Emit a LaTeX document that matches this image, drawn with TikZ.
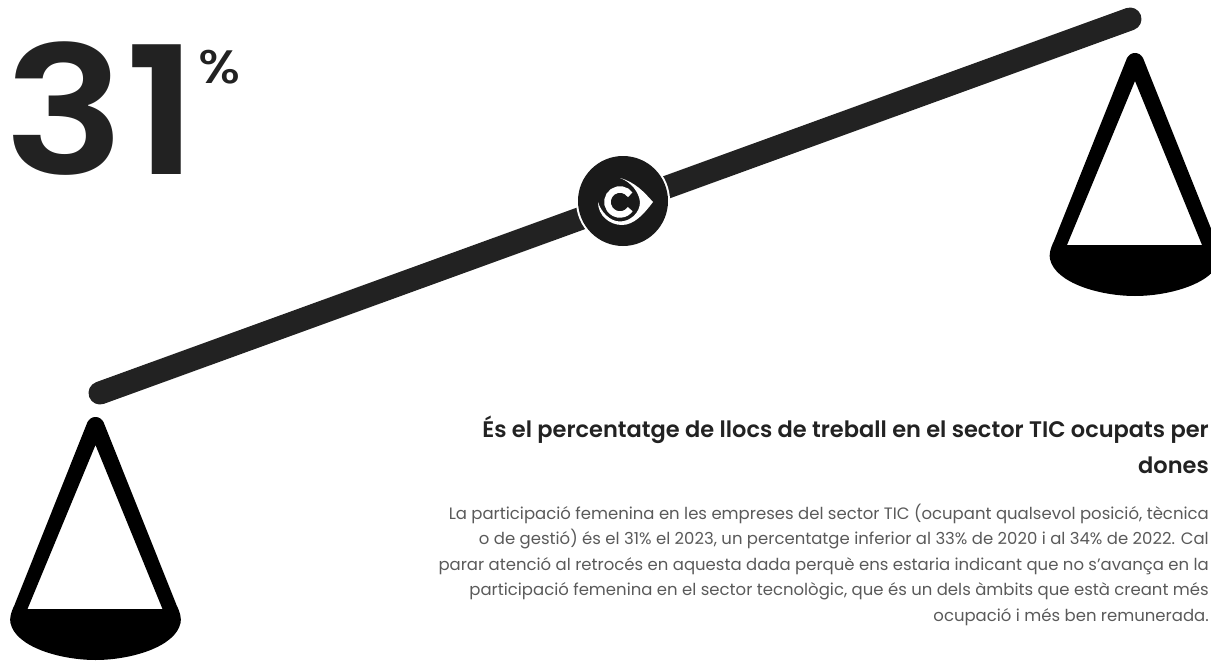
\documentclass[tikz,border=0pt]{standalone}
\usepackage{fontspec}
\setmainfont{Poppins}
\newfontfamily\semifont{Poppins SemiBold}
\newfontfamily\bigfont[FakeStretch=1.13]{Poppins SemiBold}
\newfontfamily\pctfont[FakeStretch=1.13]{Poppins Medium}
\definecolor{ink}{HTML}{222222}
\definecolor{hubink}{HTML}{1A1A1A}
\definecolor{bodygrey}{HTML}{5A5A5A}
\tikzset{
  scalepan/.pic={
    \fill[black,even odd rule]
      (0,-8) .. controls (4,-8) and (6,-6) .. (8,-3)
      -- (81,180) .. controls (85,188) and (86,194) .. (85,198)
      .. controls (80,222) and (35,235) .. (0,235)
      .. controls (-35,235) and (-80,222) .. (-85,198)
      .. controls (-86,194) and (-85,188) .. (-81,180)
      -- (-8,-3) .. controls (-6,-6) and (-4,-8) .. (0,-8) -- cycle
      (0,20) -- (-68,184) -- (67,184) -- cycle;
  },
  headline/.style={anchor=north east,align=right,font=\fontsize{22.5}{36}\selectfont\semifont,text=ink,inner sep=0pt},
  bodytext/.style={anchor=north east,align=right,font=\fontsize{16.5}{25.5}\selectfont,text=bodygrey,inner sep=0pt},
  beam/.style={ink,line width=23pt,line cap=round}
}
\begin{document}
\begin{tikzpicture}[x=1pt,y=-1pt]
\useasboundingbox (0,0) rectangle (1211,661);
\begin{scope}
\clip (0,0) rectangle (1211,661);
\coordinate (beamL) at (100,393);
\coordinate (beamR) at (1130,19);
\draw[beam] (beamL) -- (beamR);
\pic at (95.5,425) {scalepan};
\pic at (1135,61) {scalepan};
\node[circle,fill=white,minimum size=94pt,inner sep=0pt] (ringbg) at (623,201) {};
\node[circle,fill=hubink,minimum size=90pt,inner sep=0pt] (hub) at (623,201) {};
\begin{scope}[shift={(620,202)}]
\fill[white] (-22,0) .. controls (-22,14) and (-10,23) .. (2,23)
  .. controls (14,23) and (24,12) .. (33,0)
  .. controls (24,-10) and (15,-20) .. (0,-24)
  .. controls (11,-20) and (19,-10) .. (20,0)
  .. controls (20,11) and (10,19.5) .. (0,19.5)
  .. controls (-10,19.5) and (-19,10) .. (-22,0) -- cycle;
\draw[white,line width=6.5pt] (10.2,-7.2) arc[start angle=35,delta angle=290,radius=12.5pt];
\end{scope}
\node[anchor=base west,inner sep=0pt,text=ink,font=\fontsize{178}{178}\selectfont\bigfont] (big) at (4.5,174) {31};
\node[anchor=base west,inner sep=0pt,text=ink,font=\fontsize{47}{47}\selectfont\pctfont] (pct) at (198,83.5) {\%};
\node[headline] (head) at (1209,416) {És el percentatge de llocs de treball en el sector TIC ocupats per\\dones};
\node[bodytext] (body) at (1209,503.5) {La participació femenina en les empreses del sector TIC (ocupant qualsevol posició, tècnica\\o de gestió) és el 31\% el 2023, un percentatge inferior al 33\% de 2020 i al 34\% de 2022. Cal\\parar atenció al retrocés en aquesta dada perquè ens estaria indicant que no s'avança en la\\participació femenina en el sector tecnològic, que és un dels àmbits que està creant més\\ocupació i més ben remunerada.};
\end{scope}
\end{tikzpicture}
\end{document}
